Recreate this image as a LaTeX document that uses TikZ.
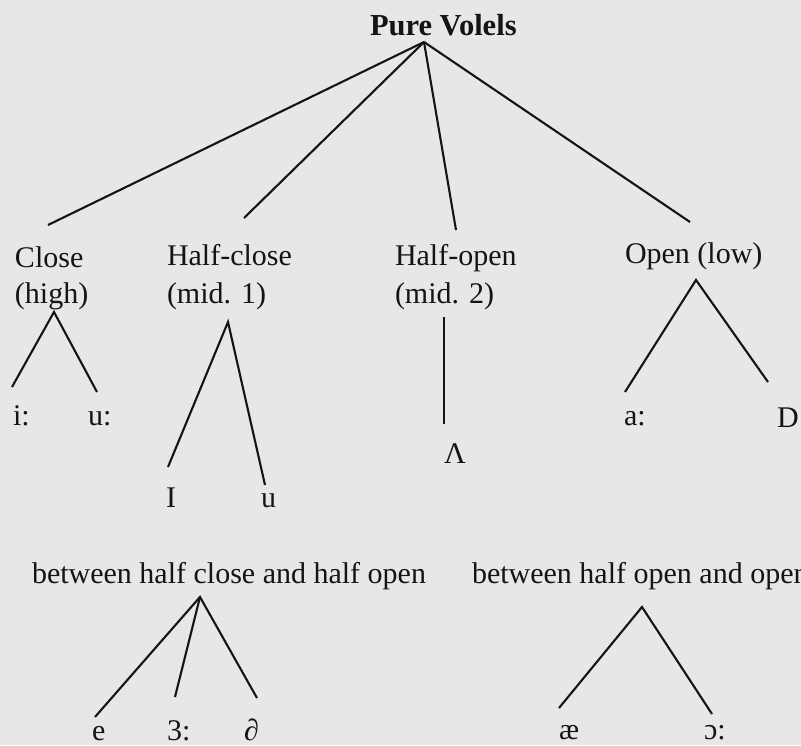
\documentclass[tikz,border=0pt]{standalone}
\usepackage{fontspec}
\setmainfont{Liberation Serif}
\definecolor{ink}{RGB}{20,20,20}
\definecolor{paper}{RGB}{231,231,229}
\begin{document}
\begin{tikzpicture}[x=1pt,y=-1pt,
  lbl/.style={anchor=base west,inner sep=0pt,outer sep=0pt,font=\fontsize{30}{36}\selectfont,text=ink},
  ttl/.style={lbl,font=\fontsize{30.5}{36}\selectfont\bfseries},
  edge/.style={draw=ink,line width=2.1pt}]
\fill[paper] (0,0) rectangle (801,745);
\useasboundingbox (0,0) rectangle (801,745);

% title
\node[ttl] (title) at (370,35) {Pure Volels};

% level 1
\node[lbl] (close) at (15,267) {Close};
\node[lbl] (closeb) at (15,303) {(high)};
\node[lbl] (hclose) at (167,265) {Half-close};
\node[lbl] (hcloseb) at (167,303) {(mid. 1)};
\node[lbl] (hopen) at (395,265) {Half-open};
\node[lbl] (hopenb) at (395,303) {(mid. 2)};
\node[lbl] (open) at (625,263) {Open (low)};

% leaves
\node[lbl] (ii) at (13,425) {i:};
\node[lbl] (uu) at (88,425) {u:};
\node[lbl] (I) at (166,507) {I};
\node[lbl] (u) at (261,507) {u};
\node[lbl] (lam) at (444,463) {Λ};
\node[lbl] (aa) at (624,425) {a:};
\node[lbl] (D) at (777,427) {D};

% lower groups
\node[lbl] (bhc) at (32,583) {between half close and half open};
\node[lbl] (bho) at (472,583) {between half open and open};
\node[lbl] (e) at (92,740) {e};
\node[lbl] (er) at (167,740) {3:};
\node[lbl] (schwa) at (244,740) {∂};
\node[lbl] (ae) at (559,739) {æ};
\node[lbl] (oo) at (704,739) {ɔ:};

% connector points
\coordinate (rootA) at (424,42);
\coordinate (cT) at (48,225);
\coordinate (hcT) at (244,218);
\coordinate (hoT) at (456,230);
\coordinate (oT) at (690,222);

\coordinate (cA) at (54,312);
\coordinate (cL) at (12,387);
\coordinate (cR) at (97,392);

\coordinate (hcA) at (228,322);
\coordinate (hcL) at (168,467);
\coordinate (hcR) at (265,485);

\coordinate (hoA) at (444,317);
\coordinate (hoB) at (444,424);

\coordinate (oA) at (696,280);
\coordinate (oL) at (625,392);
\coordinate (oR) at (768,382);

\coordinate (bA) at (200,597);
\coordinate (bL) at (95,717);
\coordinate (bM) at (175,697);
\coordinate (bR) at (257,698);

\coordinate (dA) at (642,607);
\coordinate (dL) at (559,708);
\coordinate (dR) at (712,714);

\draw[edge] (rootA) -- (cT);
\draw[edge] (rootA) -- (hcT);
\draw[edge] (rootA) -- (hoT);
\draw[edge] (rootA) -- (oT);

\draw[edge] (cL) -- (cA) -- (cR);
\draw[edge] (hcL) -- (hcA) -- (hcR);
\draw[edge] (hoA) -- (hoB);
\draw[edge] (oL) -- (oA) -- (oR);

\draw[edge] (bL) -- (bA) -- (bR);
\draw[edge] (bA) -- (bM);
\draw[edge] (dL) -- (dA) -- (dR);
\end{tikzpicture}
\end{document}
